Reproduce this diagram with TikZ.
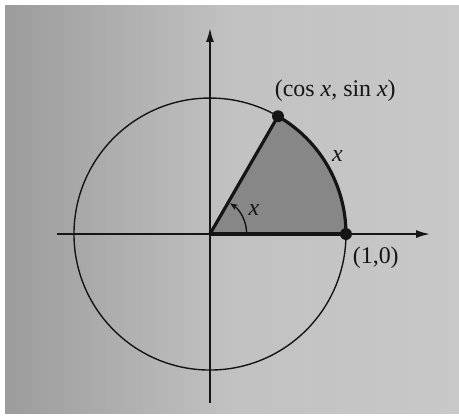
\documentclass[tikz,border=0pt]{standalone}
\usepackage{fontspec}
\setmainfont{Liberation Serif}
\usetikzlibrary{arrows.meta, positioning}
\definecolor{cpaperl}{HTML}{9C9C9C}
\definecolor{cpaperr}{HTML}{C8C8C8}
\definecolor{csector}{HTML}{878787}
\definecolor{cink}{HTML}{151515}
\tikzset{
  every picture/.style={font=\fontsize{12}{14}\selectfont},
  axis/.style={draw=cink, line width=0.9pt, -{Latex[length=7pt, width=4pt]}},
  thinline/.style={draw=cink, line width=0.7pt},
  thickline/.style={draw=cink, line width=1.6pt},
  dot/.style={circle, fill=cink, inner sep=0pt, minimum size=6pt},
  label/.style={text=cink, inner sep=1pt},
}
\begin{document}
\begin{tikzpicture}[x=2.4cm, y=2.4cm]
  % page (photo) background
  \useasboundingbox (-1.544,-1.360) rectangle (1.831,1.721);
  \fill[white] (-1.544,-1.360) rectangle (1.831,1.721);
  \shade[left color=cpaperl, right color=cpaperr, middle color=cpaperr!85!cpaperl] (-1.507,-1.316) rectangle (1.831,1.684);
  % points on the unit circle
  \coordinate (O) at (0,0);
  \coordinate (Q) at (1,0);
  \coordinate (P) at (60:1);
  \coordinate (xl) at (-1.125,0);
  \coordinate (xr) at (1.618,0);
  \coordinate (yb) at (0,-1.243);
  \coordinate (yt) at (0,1.515);
  % shaded sector
  \fill[csector] (O) -- (Q) arc[start angle=0, end angle=60, radius=1] -- cycle;
  % circle and axes
  \draw[thinline] (O) circle[radius=1];
  \draw[axis] (xl) -- (xr);
  \draw[axis] (yb) -- (yt);
  % sector edges
  \draw[thickline] (O) -- (P);
  \draw[thickline] (O) -- (Q);
  \draw[thickline] (Q) arc[start angle=0, end angle=60, radius=1];
  % angle mark
  \draw[thinline, -{Stealth[length=4pt, width=3pt]}] (0.27,0) arc[start angle=0, end angle=57, radius=0.27];
  \node[dot] (p) at (P) {};
  \node[dot] (q) at (Q) {};
  \node[label] (angle) at (29:0.37) {\textit{x}};
  \node[label] (arclen) at (31.5:1.1) {\textit{x}};
  \node[label, above right=4pt and -5pt of p] (plabel) {(cos \textit{x}, sin \textit{x})};
  \node[label, below right=3pt and 0pt of q] (qlabel) {(1,0)};
\end{tikzpicture}
\end{document}
